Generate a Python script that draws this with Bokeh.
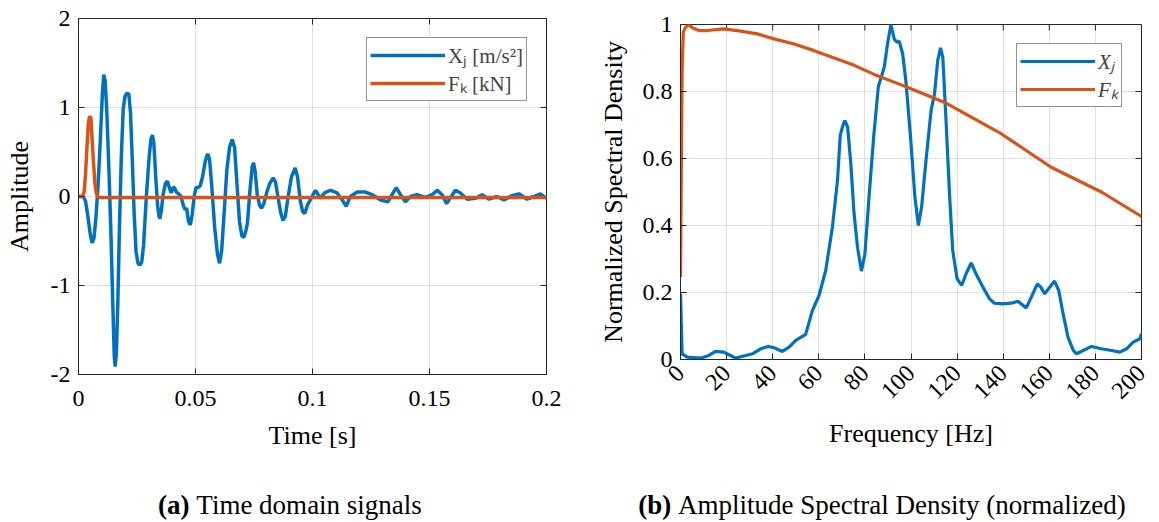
import math
from bokeh.plotting import figure
from bokeh.models import FixedTicker, Range1d, Legend, LegendItem, Div
from bokeh.layouts import row, column
from bokeh.embed import file_html
from bokeh.resources import INLINE

# ---------------- data: (a) time domain ----------------
time_x = [0.0000, 0.0020, 0.0030, 0.0040, 0.0050, 0.0058, 0.0066, 0.0074, 0.0083, 0.0093,
          0.0102, 0.0108, 0.0114, 0.0121, 0.0130, 0.0139, 0.0147, 0.0153, 0.0157, 0.0162,
          0.0168, 0.0175, 0.0183, 0.0191, 0.0199, 0.0207, 0.0215, 0.0222, 0.0230, 0.0238,
          0.0246, 0.0254, 0.0262, 0.0270, 0.0278, 0.0290, 0.0302, 0.0310, 0.0316, 0.0322,
          0.0330, 0.0338, 0.0344, 0.0348, 0.0354, 0.0362, 0.0372, 0.0380, 0.0388, 0.0396,
          0.0404, 0.0410, 0.0418, 0.0428, 0.0438, 0.0448, 0.0456, 0.0462, 0.0470, 0.0478,
          0.0486, 0.0494, 0.0502, 0.0510, 0.0520, 0.0530, 0.0542, 0.0552, 0.0560, 0.0570,
          0.0582, 0.0594, 0.0603, 0.0612, 0.0622, 0.0634, 0.0646, 0.0657, 0.0667, 0.0677,
          0.0688, 0.0698, 0.0706, 0.0714, 0.0722, 0.0732, 0.0742, 0.0748, 0.0755, 0.0764,
          0.0774, 0.0782, 0.0792, 0.0805, 0.0818, 0.0832, 0.0842, 0.0852, 0.0864, 0.0874,
          0.0884, 0.0896, 0.0910, 0.0926, 0.0936, 0.0948, 0.0958, 0.0967, 0.0978, 0.0990,
          0.1002, 0.1013, 0.1024, 0.1034, 0.1051, 0.1077, 0.1105, 0.1127, 0.1144, 0.1162,
          0.1191, 0.1226, 0.1255, 0.1291, 0.1322, 0.1340, 0.1358, 0.1376, 0.1397, 0.1419,
          0.1447, 0.1483, 0.1511, 0.1533, 0.1554, 0.1573, 0.1593, 0.1611, 0.1632, 0.1661,
          0.1697, 0.1725, 0.1753, 0.1789, 0.1818, 0.1853, 0.1882, 0.1917, 0.1946, 0.1974,
          0.2000]
accel_xj = [0.00, 0.00, -0.05, -0.22, -0.42, -0.52, -0.47, -0.25, 0.10, 0.62,
            1.15, 1.37, 1.30, 0.95, 0.30, -0.45, -1.25, -1.80, -1.91, -1.75,
            -1.20, -0.35, 0.45, 0.98, 1.13, 1.16, 1.15, 0.95, 0.40, -0.20,
            -0.62, -0.75, -0.77, -0.74, -0.55, 0.00, 0.45, 0.65, 0.69, 0.60,
            0.22, -0.10, -0.22, -0.25, -0.16, 0.03, 0.15, 0.17, 0.10, 0.04,
            0.10, 0.10, 0.05, 0.03, 0.00, -0.10, -0.15, -0.13, -0.28, -0.32,
            -0.20, 0.00, 0.10, 0.10, 0.12, 0.22, 0.40, 0.48, 0.42, 0.10,
            -0.35, -0.65, -0.75, -0.60, -0.20, 0.30, 0.56, 0.64, 0.55, 0.15,
            -0.28, -0.44, -0.46, -0.40, -0.30, 0.05, 0.33, 0.38, 0.28, 0.02,
            -0.10, -0.13, -0.08, 0.05, 0.15, 0.21, 0.16, 0.00, -0.18, -0.27,
            -0.22, 0.00, 0.22, 0.32, 0.22, -0.05, -0.17, -0.19, -0.10, -0.04,
            0.02, 0.07, 0.02, -0.02, 0.04, 0.07, 0.04, -0.04, -0.11, 0.00,
            0.05, 0.05, 0.02, -0.04, -0.06, 0.02, 0.10, 0.02, -0.06, 0.00,
            0.02, -0.01, 0.02, 0.07, 0.02, -0.08, 0.00, 0.07, 0.04, -0.03,
            -0.02, 0.02, -0.03, 0.00, -0.04, 0.01, 0.03, -0.03, 0.00, 0.03,
            -0.02]
time_f = [0.0000, 0.0017, 0.0024, 0.0030, 0.0036, 0.0042, 0.0047, 0.0053, 0.0058, 0.0064,
          0.0070, 0.0076, 0.0085, 0.0500, 0.1000, 0.1500, 0.2000]
force_fk = [0.00, 0.00, 0.05, 0.25, 0.55, 0.82, 0.90, 0.88, 0.65, 0.38,
            0.15, 0.04, -0.01, -0.01, -0.01, -0.01, -0.01]

# ---------------- data: (b) normalized ASD ----------------
freq_x = [0, 0.7, 2.9, 8.7, 12.3, 15.2, 18.8, 21.7, 23.9, 28.3, 31.2, 34.8, 38, 40.6, 44.2,
          47.1, 50, 54.3, 57.2, 60.1, 63, 65.9, 68.1, 69.3, 70.5, 71.3, 72.5, 73.9, 75.3,
          76.8, 78.5, 80, 81.9, 83.8, 85.8, 88.4, 89.8, 91.3, 92.7, 93.9, 94.9, 96.4, 97.8,
          99.8, 101.7, 103.2, 104.6, 106.5, 108.7, 110.2, 111.6, 112.8, 113.8, 115.2, 116.7,
          118.1, 120, 122, 123.9, 126.1, 128.2, 131.2, 134.1, 136.2, 139.8, 143.5, 146.4,
          150, 152.2, 154.8, 156.3, 158, 160.2, 162.3, 164.1, 166, 168.1, 170.4, 171.8,
          174.7, 178.3, 182.6, 187, 190.6, 193.5, 196.4, 199.3, 200]
asd_xj = [0.196, 0.017, 0.007, 0.004, 0.012, 0.024, 0.022, 0.012, 0.004, 0.012, 0.017, 0.032,
          0.039, 0.035, 0.024, 0.037, 0.057, 0.075, 0.146, 0.191, 0.266, 0.395, 0.534, 0.669,
          0.700, 0.713, 0.694, 0.584, 0.435, 0.335, 0.264, 0.315, 0.495, 0.664, 0.813, 0.873,
          0.942, 1.000, 0.957, 0.947, 0.950, 0.912, 0.830, 0.664, 0.485, 0.400, 0.455, 0.594,
          0.743, 0.793, 0.893, 0.930, 0.902, 0.713, 0.495, 0.325, 0.241, 0.221, 0.256, 0.288,
          0.256, 0.216, 0.181, 0.168, 0.166, 0.168, 0.174, 0.154, 0.186, 0.226, 0.216, 0.196,
          0.216, 0.234, 0.206, 0.136, 0.067, 0.027, 0.017, 0.027, 0.039, 0.032, 0.027, 0.022,
          0.032, 0.052, 0.062, 0.077]
freq_f = [0, 0.7, 1.2, 2.2, 3.6, 5.1, 8, 11.6, 18.8, 26.1, 33.3, 40.6, 49.3, 58, 66.7, 75.4,
          84, 92.7, 100, 114.4, 139.1, 160.8, 182.6, 200]
asd_fk = [0.246, 0.863, 0.977, 0.992, 1.000, 0.990, 0.982, 0.982, 0.987, 0.980, 0.972, 0.957,
          0.942, 0.922, 0.900, 0.878, 0.851, 0.828, 0.808, 0.768, 0.674, 0.574, 0.500, 0.427]

# ---------------- ticks / labels ----------------
a_xticks = [0, 0.05, 0.1, 0.15, 0.2]
a_xlabels = ["0", "0.05", "0.1", "0.15", "0.2"]
a_yticks = [-2, -1, 0, 1, 2]
a_ylabels = ["-2", "-1", "0", "1", "2"]
b_xticks = [0, 20, 40, 60, 80, 100, 120, 140, 160, 180, 200]
b_xlabels = ["0", "20", "40", "60", "80", "100", "120", "140", "160", "180", "200"]
b_yticks = [0, 0.2, 0.4, 0.6, 0.8, 1]
b_ylabels = ["0", "0.2", "0.4", "0.6", "0.8", "1"]

FONT = "Liberation Serif"
BLUE = "#0072BD"
ORANGE = "#D95319"
AX = "#262626"


def make_fig(width, height, xr, yr, ml, mr, mt, mb):
    p = figure(width=width, height=height, x_range=xr, y_range=yr, output_backend="svg",
               toolbar_location=None, title=None, min_border_left=ml, min_border_right=mr,
               min_border_top=mt, min_border_bottom=mb)
    p.outline_line_color = AX
    p.outline_line_alpha = 1.0
    p.outline_line_width = 1
    return p


def style(p, xt, xl, yt, yl):
    p.xaxis.ticker = FixedTicker(ticks=xt)
    p.yaxis.ticker = FixedTicker(ticks=yt)
    for ax in p.axis:
        ax.major_tick_in = 6
        ax.major_tick_out = 0
        ax.minor_tick_line_color = None
        ax.axis_line_color = AX
        ax.major_tick_line_color = AX
        ax.major_label_text_font = FONT
        ax.major_label_text_font_size = "24px"
        ax.major_label_text_color = "black"
        ax.axis_label_text_font = FONT
        ax.axis_label_text_font_size = "26px"
        ax.axis_label_text_font_style = "normal"
        ax.axis_label_text_color = "black"
    p.xaxis.major_label_overrides = dict(zip(xt, xl))
    p.yaxis.major_label_overrides = dict(zip(yt, yl))
    p.grid.grid_line_color = AX
    p.grid.grid_line_alpha = 0.15
    # inward ticks on the top and right edges of the box
    p.ray(x=xt, y=[p.y_range.end] * len(xt), length=6, length_units="screen",
          angle=-math.pi / 2, line_color=AX, line_width=1)
    p.ray(x=[p.x_range.end] * len(yt), y=yt, length=6, length_units="screen",
          angle=math.pi, line_color=AX, line_width=1)


def caption(tag, text, width, pad_left):
    html = ('<div style="width:%dpx;height:54px;box-sizing:border-box;padding-top:36px;'
            'padding-left:%dpx;display:flex;align-items:center;justify-content:center;'
            'font-family:\'Liberation Serif\';font-size:27px;line-height:18px;color:black;'
            'white-space:nowrap;"><b>%s</b>&nbsp;%s</div>') % (width, pad_left, tag, text)
    return Div(text=html, width=width, height=54, margin=(0, 0, 0, 0))


# ---------------- (a) ----------------
p1 = make_fig(568, 460, Range1d(0, 0.2), Range1d(-2, 2), 78, 22, 18, 86)
style(p1, a_xticks, a_xlabels, a_yticks, a_ylabels)
p1.xaxis.axis_label = "Time [s]"
p1.yaxis.axis_label = "Amplitude"
p1.xaxis.major_label_standoff = 16
p1.xaxis.axis_label_standoff = 12
p1.yaxis.major_label_standoff = 8
p1.yaxis.axis_label_standoff = 14

ra1 = p1.line(time_x, accel_xj, line_color=BLUE, line_width=3.5)
ra2 = p1.line(time_f, force_fk, line_color=ORANGE, line_width=3.5)
leg1 = Legend(items=[LegendItem(label="Xⱼ [m/s²]", renderers=[ra1]),
                     LegendItem(label="Fₖ [kN]", renderers=[ra2])],
              location="top_right", margin=19, padding=3, spacing=0,
              glyph_width=75, glyph_height=24, label_height=24, label_standoff=3,
              label_text_font=FONT, label_text_font_size="21px",
              border_line_color=AX, border_line_width=1, background_fill_alpha=1.0)
p1.add_layout(leg1)

# ---------------- (b) ----------------
p2 = make_fig(585, 460, Range1d(0, 200), Range1d(0, 1), 112, 12, 24, 101)
style(p2, b_xticks, b_xlabels, b_yticks, b_ylabels)
p2.xaxis.axis_label = "Frequency [Hz]"
p2.yaxis.axis_label = "Normalized Spectral Density"
p2.xaxis.major_label_orientation = math.pi / 4
p2.xaxis.major_label_standoff = 10
p2.xaxis.axis_label_standoff = 10
p2.yaxis.major_label_standoff = 8
p2.yaxis.axis_label_standoff = 12

rb1 = p2.line(freq_x, asd_xj, line_color=BLUE, line_width=3.2)
rb2 = p2.line(freq_f, asd_fk, line_color=ORANGE, line_width=3.2)
leg2 = Legend(items=[LegendItem(label="Xⱼ", renderers=[rb1]),
                     LegendItem(label="Fₖ", renderers=[rb2])],
              location="top_right", margin=19, padding=3, spacing=0,
              glyph_width=75, glyph_height=24, label_height=24, label_standoff=3,
              label_text_font=FONT, label_text_font_size="21px",
              label_text_font_style="italic",
              border_line_color=AX, border_line_width=1, background_fill_alpha=1.0)
p2.add_layout(leg2)

cap1 = caption("(a)", "Time domain signals", 568, 12)
cap2 = caption("(b)", "Amplitude Spectral Density (normalized)", 585, 43)

layout = row(column(p1, cap1), column(p2, cap2))
open("out.html", "w").write(file_html(layout, INLINE))
